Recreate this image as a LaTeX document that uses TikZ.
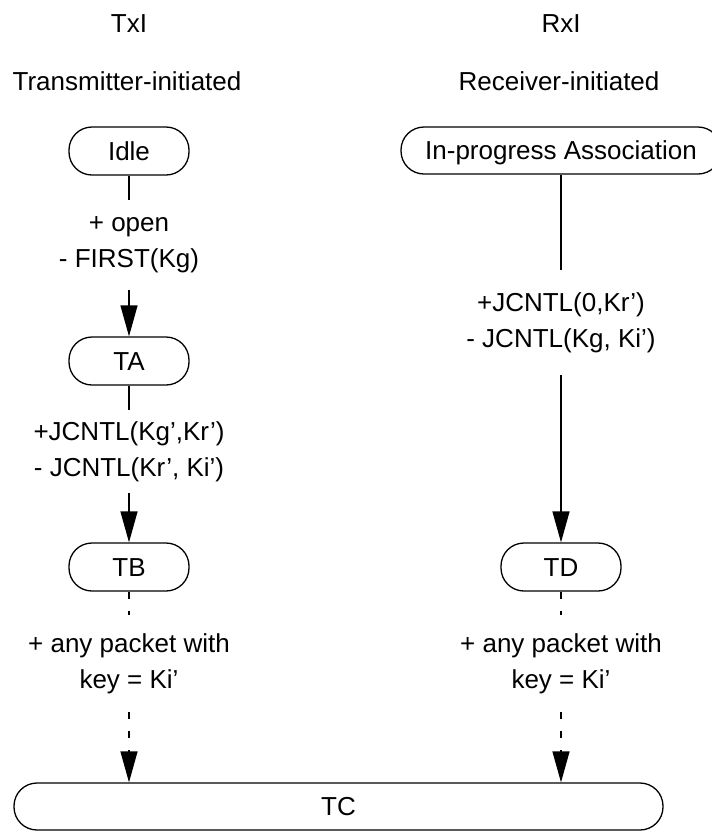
\documentclass[tikz,border=0pt]{standalone}
\usepackage{fontspec}
\setmainfont{Liberation Sans}
\usetikzlibrary{arrows.meta,positioning}

\begin{document}
\begin{tikzpicture}[
        x=1pt, y=-1pt,
        font=\fontsize{26}{36}\selectfont,
        stbox/.style={rectangle, draw=black, line width=1.3pt, rounded corners=23pt, minimum width=120pt, minimum height=48pt, text height=18.6pt, text depth=0pt, inner sep=0pt},
        lbl/.style={align=center, inner sep=0pt},
        trans/.style={line width=1.3pt},
        go/.style={-{Triangle[length=31pt,width=17pt]}, line width=1.3pt},
        maybe/.style={line width=1.3pt, dash pattern=on 7pt off 12pt},
    ]
    \useasboundingbox (0,0) rectangle (712,831);

    \node[anchor=base] (txi) at (129,32) {TxI};
    \node[anchor=base] (rxi) at (561,32) {RxI};
    \node[anchor=base] (txinit) at (127,90) {Transmitter-initiated};
    \node[anchor=base] (rxinit) at (559,90) {Receiver-initiated};

    \node[stbox] (idle) at (129,151) {Idle};
    \node[stbox, minimum width=320pt, minimum height=47pt] (inprog) at (561,150.5) {In-progress Association};
    \node[stbox] (ta) at (129,361) {TA};
    \node[stbox] (tb) at (129,567) {TB};
    \node[stbox] (td) at (561,567) {TD};
    \node[stbox, minimum width=649pt, minimum height=47pt] (tc) at (338.5,806.5) {TC};

    \node[lbl, minimum height=90pt] (open) at (129,245) {+ open\\- FIRST(Kg)};
    \node[lbl, minimum height=83pt] (kgkr) at (129,451.5) {+JCNTL(Kg',Kr')\\- JCNTL(Kr', Ki')};
    \node[lbl, minimum height=105pt] (jczero) at (561,322.5) {+JCNTL(0,Kr')\\- JCNTL(Kg, Ki')};
    \node[lbl, minimum height=97pt] (anytx) at (129,663.5) {+ any packet with\\key = Ki'};
    \node[lbl, minimum height=97pt] (anyrx) at (561,663.5) {+ any packet with\\key = Ki'};

    \draw[trans] (idle) -- (open);
    \draw[go] (open) -- (ta);
    \draw[trans] (ta) -- (kgkr);
    \draw[go] (kgkr) -- (tb);
    \draw[maybe] (tb) -- (anytx);
    \draw[go, maybe] (anytx) -- (anytx |- tc.north);

    \draw[trans] (inprog) -- (jczero);
    \draw[go] (jczero) -- (td);
    \draw[maybe] (td) -- (anyrx);
    \draw[go, maybe] (anyrx) -- (anyrx |- tc.north);
\end{tikzpicture}
\end{document}
